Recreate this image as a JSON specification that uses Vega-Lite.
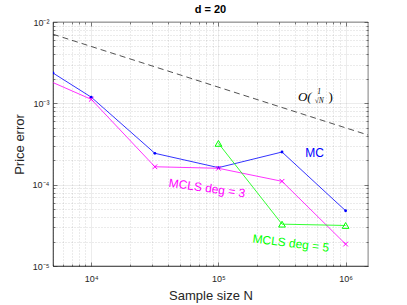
{
  "$schema": "https://vega.github.io/schema/vega-lite/v6.json",
  "autosize": {"type": "none"},
  "width": 315,
  "height": 244,
  "padding": {"left": 53, "top": 22, "right": 39, "bottom": 39},
  "background": "white",
  "title": {"text": "d = 20", "fontSize": 11, "fontWeight": "bold", "font": "Liberation Sans", "color": "#000000", "offset": 3, "anchor": "middle"},
  "config": {
    "view": {"stroke": "#262626", "strokeWidth": 0.6},
    "axis": {"labelFont": "Liberation Sans", "titleFont": "Liberation Sans", "labelColor": "#262626", "titleColor": "#262626", "domainColor": "#262626", "tickColor": "#262626", "domainWidth": 0.6, "tickWidth": 0.6}
  },
  "datasets": {
    "series": [
      {"method": "MC", "N": 5000, "err": 0.00236},
      {"method": "MC", "N": 10000, "err": 0.00119},
      {"method": "MC", "N": 31623, "err": 0.000243},
      {"method": "MC", "N": 100000, "err": 0.000162},
      {"method": "MC", "N": 316228, "err": 0.000252},
      {"method": "MC", "N": 1000000, "err": 0.0000478},
      {"method": "MCLS deg = 3", "N": 5000, "err": 0.0018},
      {"method": "MCLS deg = 3", "N": 10000, "err": 0.00112},
      {"method": "MCLS deg = 3", "N": 31623, "err": 0.000166},
      {"method": "MCLS deg = 3", "N": 100000, "err": 0.000159},
      {"method": "MCLS deg = 3", "N": 316228, "err": 0.00011},
      {"method": "MCLS deg = 3", "N": 1000000, "err": 0.0000186},
      {"method": "MCLS deg = 5", "N": 100000, "err": 0.000322},
      {"method": "MCLS deg = 5", "N": 316228, "err": 0.0000327},
      {"method": "MCLS deg = 5", "N": 1000000, "err": 0.0000315}
    ],
    "ref": [
      {"N": 5000, "err": 0.00707},
      {"N": 1500000, "err": 0.000408}
    ],
    "labels": [
      {"method": "MC", "text": "MC", "N": 571000, "err": 0.000245, "angle": 0},
      {"method": "MCLS deg = 3", "text": "MCLS deg = 3", "N": 81300, "err": 0.0000908, "angle": 8},
      {"method": "MCLS deg = 5", "text": "MCLS deg = 5", "N": 371000, "err": 0.0000191, "angle": 7}
    ],
    "oleft": [{"text": "O(", "N": 541000, "err": 0.001197}],
    "oright": [{"text": ")", "N": 735000, "err": 0.001197}],
    "frac": [
      {"text": "1", "N": 620000, "err": 0.001377},
      {"text": "√N", "N": 620000, "err": 0.001069}
    ]
  },
  "resolve": {"axis": {"x": "independent", "y": "independent"}},
  "layer": [
    {
      "data": {"name": "ref"},
      "mark": {"type": "line", "color": "#262626", "strokeWidth": 0.8, "strokeDash": [6, 4], "clip": true},
      "encoding": {
        "x": {"field": "N", "type": "quantitative",
          "scale": {"type": "log", "domain": [5000, 1500000], "nice": false},
          "axis": {"orient": "bottom", "title": "Sample size N", "titleFontSize": 13, "titleFontWeight": "normal", "titlePadding": 4,
            "values": [5000, 6000, 7000, 8000, 9000, 10000, 20000, 30000, 40000, 50000, 60000, 70000, 80000, 90000, 100000, 200000, 300000, 400000, 500000, 600000, 700000, 800000, 900000, 1000000],
            "labelExpr": "datum.value == 10000 ? '10⁴' : datum.value == 100000 ? '10⁵' : datum.value == 1000000 ? '10⁶' : ''",
            "labelFontSize": 9, "labelPadding": 12, "labelFlush": false, "labelOverlap": false,
            "grid": true, "gridColor": "#262626",
            "gridOpacity": {"condition": {"test": "indexof([10000,100000,1000000], datum.value) >= 0", "value": 0.15}, "value": 0.3},
            "gridDash": {"condition": {"test": "indexof([10000,100000,1000000], datum.value) >= 0", "value": []}, "value": [1, 2]},
            "gridWidth": 0.6,
            "tickSize": {"condition": {"test": "indexof([10000,100000,1000000], datum.value) >= 0", "value": -4}, "value": -2}
          }
        },
        "y": {"field": "err", "type": "quantitative",
          "scale": {"type": "log", "domain": [0.00001, 0.01], "nice": false},
          "axis": {"orient": "left", "title": "Price error", "titleFontSize": 13, "titleFontWeight": "normal", "titlePadding": 6,
            "values": [0.00001, 0.00002, 0.00003, 0.00004, 0.00005, 0.00006, 0.00007, 0.00008, 0.00009, 0.0001, 0.0002, 0.0003, 0.0004, 0.0005, 0.0006, 0.0007, 0.0008, 0.0009, 0.001, 0.002, 0.003, 0.004, 0.005, 0.006, 0.007, 0.008, 0.009, 0.01],
            "labelExpr": "datum.value == 0.00001 ? '10⁻⁵' : datum.value == 0.0001 ? '10⁻⁴' : datum.value == 0.001 ? '10⁻³' : datum.value == 0.01 ? '10⁻²' : ''",
            "labelFontSize": 9, "labelPadding": 8, "labelFlush": false, "labelOverlap": false,
            "grid": true, "gridColor": "#262626",
            "gridOpacity": {"condition": {"test": "indexof([0.00001,0.0001,0.001,0.01], datum.value) >= 0", "value": 0.15}, "value": 0.3},
            "gridDash": {"condition": {"test": "indexof([0.00001,0.0001,0.001,0.01], datum.value) >= 0", "value": []}, "value": [1, 2]},
            "gridWidth": 0.6,
            "tickSize": {"condition": {"test": "indexof([0.00001,0.0001,0.001,0.01], datum.value) >= 0", "value": -4}, "value": -2}
          }
        }
      }
    },
    {
      "data": {"name": "series"},
      "layer": [
        {
          "mark": {"type": "line", "strokeWidth": 0.8, "clip": true},
          "encoding": {
            "color": {"field": "method", "type": "nominal", "scale": {"domain": ["MC", "MCLS deg = 3", "MCLS deg = 5"], "range": ["#0000ff", "#ff00ff", "#00ff00"]}, "legend": null}
          }
        },
        {
          "transform": [{"filter": "datum.method == 'MC'"}],
          "mark": {"type": "point", "shape": "circle", "filled": true, "size": 8, "color": "#0000ff", "opacity": 1, "clip": true},
          "encoding": {}
        },
        {
          "transform": [{"filter": "datum.method == 'MCLS deg = 3' && datum.N > 5000"}],
          "mark": {"type": "point", "shape": "M-1,-1L1,1M1,-1L-1,1", "filled": false, "size": 22, "color": "#ff00ff", "strokeWidth": 1, "opacity": 1, "clip": true},
          "encoding": {}
        },
        {
          "transform": [{"filter": "datum.method == 'MCLS deg = 5'"}],
          "mark": {"type": "point", "shape": "triangle-up", "filled": false, "size": 45, "color": "#00ff00", "strokeWidth": 1, "opacity": 1, "clip": true},
          "encoding": {}
        }
      ],
      "encoding": {
        "x": {"field": "N", "type": "quantitative",
          "scale": {"type": "log", "domain": [5000, 1500000], "nice": false},
          "axis": {"orient": "top", "title": null, "labels": false, "grid": false, "domain": false,
            "values": [5000, 6000, 7000, 8000, 9000, 10000, 20000, 30000, 40000, 50000, 60000, 70000, 80000, 90000, 100000, 200000, 300000, 400000, 500000, 600000, 700000, 800000, 900000, 1000000],
            "tickSize": {"condition": {"test": "indexof([10000,100000,1000000], datum.value) >= 0", "value": -4}, "value": -2}
          }
        },
        "y": {"field": "err", "type": "quantitative",
          "scale": {"type": "log", "domain": [0.00001, 0.01], "nice": false},
          "axis": {"orient": "right", "title": null, "labels": false, "grid": false, "domain": false,
            "values": [0.00001, 0.00002, 0.00003, 0.00004, 0.00005, 0.00006, 0.00007, 0.00008, 0.00009, 0.0001, 0.0002, 0.0003, 0.0004, 0.0005, 0.0006, 0.0007, 0.0008, 0.0009, 0.001, 0.002, 0.003, 0.004, 0.005, 0.006, 0.007, 0.008, 0.009, 0.01],
            "tickSize": {"condition": {"test": "indexof([0.00001,0.0001,0.001,0.01], datum.value) >= 0", "value": -4}, "value": -2}
          }
        }
      }
    },
    {
      "data": {"name": "labels"},
      "mark": {"type": "text", "font": "Liberation Sans", "fontSize": 12, "align": "center", "baseline": "middle"},
      "encoding": {
        "x": {"field": "N", "type": "quantitative", "scale": {"type": "log", "domain": [5000, 1500000], "nice": false}, "axis": null},
        "y": {"field": "err", "type": "quantitative", "scale": {"type": "log", "domain": [0.00001, 0.01], "nice": false}, "axis": null},
        "text": {"field": "text"},
        "angle": {"field": "angle", "type": "quantitative", "scale": null},
        "color": {"field": "method", "type": "nominal", "scale": {"domain": ["MC", "MCLS deg = 3", "MCLS deg = 5"], "range": ["#0000ff", "#ff00ff", "#00ff00"]}, "legend": null}
      }
    },
    {
      "data": {"name": "oleft"},
      "mark": {"type": "text", "font": "Liberation Serif", "fontStyle": "italic", "fontSize": 13, "align": "right", "baseline": "middle", "color": "#000000"},
      "encoding": {
        "x": {"field": "N", "type": "quantitative", "scale": {"type": "log", "domain": [5000, 1500000], "nice": false}, "axis": null},
        "y": {"field": "err", "type": "quantitative", "scale": {"type": "log", "domain": [0.00001, 0.01], "nice": false}, "axis": null},
        "text": {"field": "text"}
      }
    },
    {
      "data": {"name": "oright"},
      "mark": {"type": "text", "font": "Liberation Serif", "fontSize": 13, "align": "left", "baseline": "middle", "color": "#000000"},
      "encoding": {
        "x": {"field": "N", "type": "quantitative", "scale": {"type": "log", "domain": [5000, 1500000], "nice": false}, "axis": null},
        "y": {"field": "err", "type": "quantitative", "scale": {"type": "log", "domain": [0.00001, 0.01], "nice": false}, "axis": null},
        "text": {"field": "text"}
      }
    },
    {
      "data": {"name": "frac"},
      "mark": {"type": "text", "font": "Liberation Serif", "fontStyle": "italic", "fontSize": 7.5, "align": "center", "baseline": "middle", "color": "#000000"},
      "encoding": {
        "x": {"field": "N", "type": "quantitative", "scale": {"type": "log", "domain": [5000, 1500000], "nice": false}, "axis": null},
        "y": {"field": "err", "type": "quantitative", "scale": {"type": "log", "domain": [0.00001, 0.01], "nice": false}, "axis": null},
        "text": {"field": "text"}
      }
    }
  ]
}
